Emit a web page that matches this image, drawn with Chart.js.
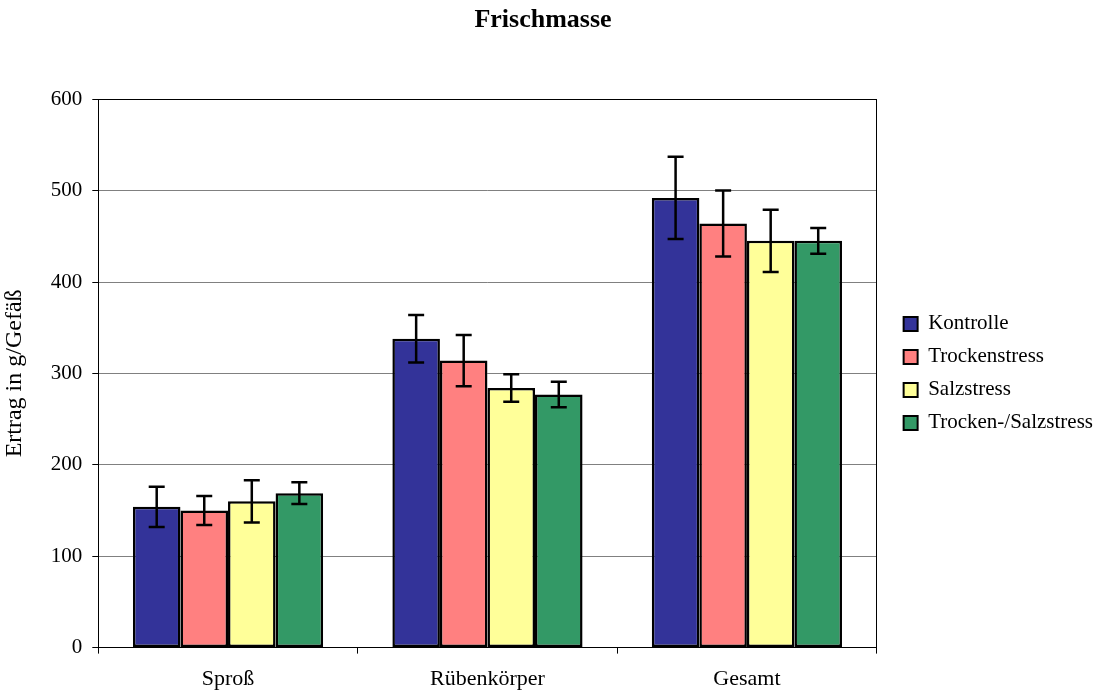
<!DOCTYPE html>
<html>
<head>
<meta charset="utf-8">
<script src="https://cdn.jsdelivr.net/npm/chart.js@4/dist/chart.umd.min.js"></script>
<style>
html,body{margin:0;padding:0;background:#fff;}
#wrap{width:1106px;height:691px;}
</style>
</head>
<body>
<div id="wrap"><canvas id="c" width="1106" height="691"></canvas></div>
<script>
const categories = ["Sproß", "Rübenkörper", "Gesamt"];
const seriesNames = ["Kontrolle", "Trockenstress", "Salzstress", "Trocken-/Salzstress"];
const kontrolle = [154, 338, 492];
const trockenstress = [150, 314, 464];
const salzstress = [160, 284, 445];
const trockenSalzstress = [169, 277, 445];
const errKontrolle = [22, 26, 45];
const errTrocken = [16, 28, 36];
const errSalz = [23, 15, 34];
const errTrockenSalz = [12, 14, 14];
const yTicks = [0, 100, 200, 300, 400, 500, 600];
const colors = ["#333399", "#FF8080", "#FFFF99", "#339966"];

const values = [kontrolle, trockenstress, salzstress, trockenSalzstress];
const errors = [errKontrolle, errTrocken, errSalz, errTrockenSalz];

const FONT = "'Liberation Serif', 'Times New Roman', serif";

const errorBarPlugin = {
  id: 'errorBars',
  afterDatasetsDraw(chart) {
    const ctx = chart.ctx;
    const y = chart.scales.y;
    ctx.save();
    ctx.strokeStyle = '#000';
    ctx.lineWidth = 2.5;
    chart.data.datasets.forEach((ds, di) => {
      const meta = chart.getDatasetMeta(di);
      meta.data.forEach((bar, i) => {
        const v = ds.data[i], e = ds.errors[i];
        const x = bar.x;
        const yt = y.getPixelForValue(v + e);
        const yb = y.getPixelForValue(v - e);
        const cap = 8;
        ctx.beginPath();
        ctx.moveTo(x, yt); ctx.lineTo(x, yb);
        ctx.moveTo(x - cap, yt); ctx.lineTo(x + cap, yt);
        ctx.moveTo(x - cap, yb); ctx.lineTo(x + cap, yb);
        ctx.stroke();
      });
    });
    ctx.restore();
  }
};

const framePlugin = {
  id: 'frame',
  afterLayout(chart) {
    const t = chart.titleBlock;
    if (t) { t.right = chart.width - 20; t.width = t.right - t.left; }
  },
  afterDraw(chart) {
    const a = chart.chartArea, ctx = chart.ctx;
    ctx.save();
    ctx.strokeStyle = '#000';
    ctx.lineWidth = 1;
    ctx.strokeRect(Math.round(a.left) + 0.5, Math.round(a.top) + 0.5, Math.round(a.right - a.left), Math.round(a.bottom - a.top));
    ctx.restore();
  }
};

new Chart(document.getElementById('c'), {
  type: 'bar',
  data: {
    labels: categories,
    datasets: seriesNames.map((n, i) => ({
      label: n,
      data: values[i],
      errors: errors[i],
      backgroundColor: colors[i],
      borderColor: '#000',
      borderWidth: 2.5,
      borderSkipped: false
    }))
  },
  options: {
    responsive: false,
    animation: false,
    devicePixelRatio: 1,
    layout: { padding: { left: 0, right: 3, top: 0, bottom: -13 } },
    datasets: { bar: { categoryPercentage: 0.733, barPercentage: 1.0 } },
    plugins: {
      title: {
        display: true,
        text: 'Frischmasse',
        color: '#000',
        font: { family: FONT, size: 26, weight: 'bold' },
        padding: { top: 5, bottom: 63 }
      },
      legend: {
        position: 'right',
        fullSize: false,
        labels: {
          color: '#000',
          font: { family: FONT, size: 21 },
          boxWidth: 14,
          boxHeight: 14,
          padding: 12,
          generateLabels(chart) {
            return chart.data.datasets.map((ds, i) => ({
              text: ds.label,
              fillStyle: ds.backgroundColor,
              strokeStyle: '#000',
              lineWidth: 2,
              datasetIndex: i,
              fontColor: '#000'
            }));
          }
        }
      },
      tooltip: { enabled: false }
    },
    scales: {
      x: {
        grid: { display: true, drawOnChartArea: false, drawTicks: true, tickLength: 6, color: '#000', offset: true },
        border: { color: '#000', width: 1 },
        ticks: { color: '#000', font: { family: FONT, size: 22 }, padding: 12 }
      },
      y: {
        min: 0, max: 600,
        afterBuildTicks(scale) { scale.ticks = yTicks.map(v => ({ value: v })); },
        grid: { color: '#808080', tickColor: '#000', tickLength: 6, lineWidth: 1 },
        border: { color: '#000', width: 1 },
        ticks: { color: '#000', font: { family: FONT, size: 21 }, padding: 10 },
        title: {
          display: true,
          text: 'Ertrag in g/Gefäß',
          color: '#000',
          font: { family: FONT, size: 24 },
          padding: { top: 0, bottom: 12 }
        }
      },
      ySpacer: {
        position: 'right',
        display: false,
        afterFit(scale) { scale.width = 15; }
      }
    }
  },
  plugins: [errorBarPlugin, framePlugin]
});
</script>
</body>
</html>
